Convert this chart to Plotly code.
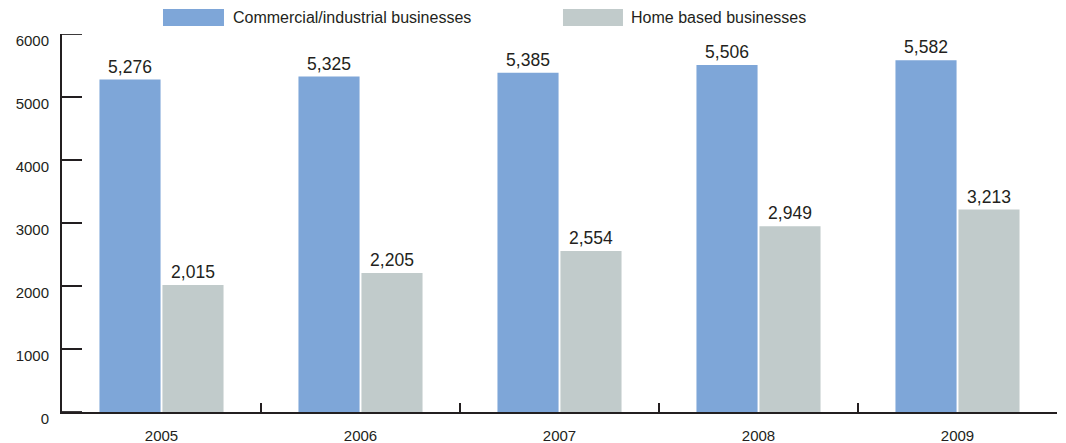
import plotly.graph_objects as go

years = ["2005", "2006", "2007", "2008", "2009"]
commercial = [5276, 5325, 5385, 5506, 5582]
home_based = [2015, 2205, 2554, 2949, 3213]
series_names = ["Commercial/industrial businesses", "Home based businesses"]
y_ticks = [0, 1000, 2000, 3000, 4000, 5000, 6000]

BLUE = "#7ea6d8"
GRAY = "#c1cbcb"
DARK = "#231f20"
FONT = "Liberation Sans, Arial, sans-serif"

fig = go.Figure()
for name, vals, col in [(series_names[0], commercial, BLUE), (series_names[1], home_based, GRAY)]:
    fig.add_trace(go.Bar(
        x=years, y=vals, name=name, marker=dict(color=col, line=dict(width=0)),
        text=[f"{v:,}" for v in vals], textposition="outside",
        textfont=dict(size=17.5, color=DARK, family=FONT), cliponaxis=False,
        showlegend=False,
    ))

# custom legend swatches
leg = [(0.1015, 0.1628, 0.1698, series_names[0], BLUE),
       (0.5035, 0.5638, 0.5698, series_names[1], GRAY)]
shapes = []
annotations = []
for x0, x1, tx, name, col in leg:
    shapes.append(dict(type="rect", xref="paper", yref="paper", x0=x0, x1=x1,
                       y0=1.021, y1=1.066, fillcolor=col, line=dict(width=0)))
    annotations.append(dict(xref="paper", yref="paper", x=tx, y=1.044, text=name,
                            showarrow=False, xanchor="left", yanchor="middle",
                            font=dict(size=16, color=DARK, family=FONT)))

# y-axis inside tick marks as thin filled rectangles on the y scale
for t in y_ticks:
    shapes.append(dict(type="rect", xref="x", yref="y",
                       x0=-0.5, x1=-0.5 + 20 / 199,
                       y0=t - 14, y1=t + 14,
                       fillcolor=DARK, line=dict(width=0), layer="above"))

fig.update_layout(
    width=1058, height=435,
    margin=dict(l=54, r=9, t=26, b=31, autoexpand=False),
    paper_bgcolor="white", plot_bgcolor="white",
    barmode="group", bargap=0.367, bargroupgap=0.03,
    shapes=shapes, annotations=annotations,
    font=dict(family=FONT, color=DARK),
)
fig.update_xaxes(
    range=[-0.5, 4.5], showline=True, linecolor=DARK, linewidth=2,
    ticks="inside", tickson="boundaries", ticklen=9, tickwidth=2, tickcolor=DARK,
    tickfont=dict(size=15, color=DARK, family=FONT), showgrid=False, zeroline=False,
    automargin=False, ticklabelstandoff=9,
)
fig.update_yaxes(
    range=[0, 6000], tickvals=y_ticks, ticktext=[str(v) for v in y_ticks],
    showline=True, linecolor=DARK, linewidth=2,
    ticks="inside", ticklen=20, tickwidth=2, tickcolor=DARK,
    tickfont=dict(size=15, color=DARK, family=FONT), showgrid=False, zeroline=False,
    ticklabelstandoff=8, ticklabelshift=7, automargin=False,
)
fig.write_html("out.html")
